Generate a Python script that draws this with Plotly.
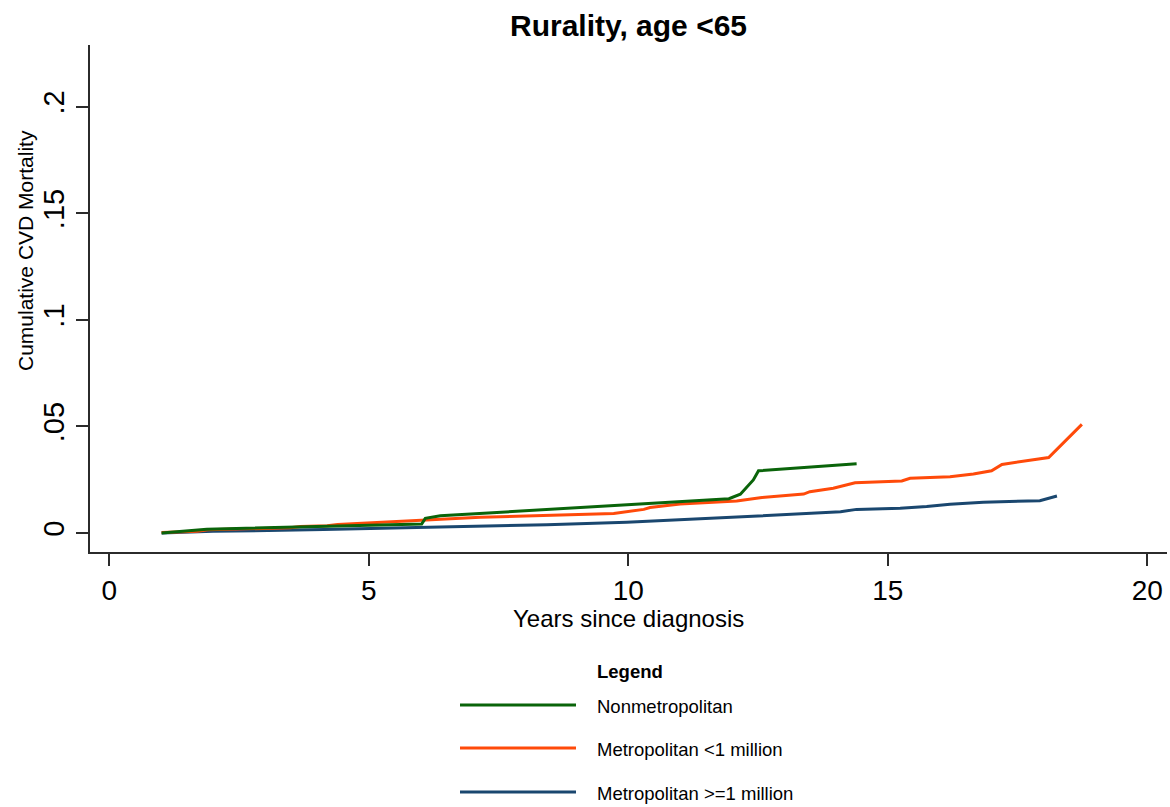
import plotly.graph_objects as go

# ---------------- data ----------------
series_names = ["Nonmetropolitan", "Metropolitan <1 million", "Metropolitan >=1 million"]
series_colors = ["#0a640a", "#ff4a0a", "#1a476f"]

nonmetro_years = [1.01, 1.88, 6.02, 6.09, 6.38, 11.94, 12.16, 12.41, 12.51, 14.40]
nonmetro_cum = [0.0, 0.0018, 0.0042, 0.0069, 0.0081, 0.0161, 0.0182, 0.0249, 0.0292, 0.0325]

metro_small_years = [1.01, 1.70, 1.90, 3.49, 3.68, 4.20, 4.40, 6.06, 7.15, 9.72, 10.30, 10.42,
                     11.00, 12.09, 12.54, 13.38, 13.50, 13.95, 14.21, 14.37, 15.27, 15.43,
                     16.20, 16.65, 17.00, 17.20, 18.10, 18.74]
metro_small_cum = [0.0003, 0.0008, 0.0015, 0.0025, 0.0031, 0.0034, 0.0040, 0.0061, 0.0074, 0.0092,
                   0.0111, 0.0120, 0.0136, 0.0150, 0.0166, 0.0183, 0.0194, 0.0210, 0.0225, 0.0236,
                   0.0244, 0.0257, 0.0264, 0.0277, 0.0292, 0.0322, 0.0354, 0.0510]

metro_large_years = [1.01, 2.00, 4.13, 5.50, 7.15, 8.43, 9.97, 12.16, 12.50, 14.09, 14.40, 15.24,
                     15.75, 16.20, 16.84, 17.93, 18.26]
metro_large_cum = [0.0, 0.0008, 0.0016, 0.0024, 0.0031, 0.0039, 0.0051, 0.0074, 0.0080, 0.0100,
                   0.0111, 0.0116, 0.0124, 0.0135, 0.0144, 0.0152, 0.0174]

x_ticks = [0, 5, 10, 15, 20]
x_tick_labels = ["0", "5", "10", "15", "20"]
y_ticks = [0, 0.05, 0.1, 0.15, 0.2]
y_tick_labels = ["0", ".05", ".1", ".15", ".2"]

title_text = "Rurality, age <65"
x_title = "Years since diagnosis"
y_title = "Cumulative CVD Mortality"
legend_title = "Legend"

# ---------------- layout constants ----------------
W, H = 1170, 807
L, R, T, B = 90, 1167, 45, 552
FONT = "Liberation Sans, Arial, sans-serif"
AX = "#2b2b2b"


def px_x(p):
    return (p - L) / (R - L)


def px_y(p):
    return (B - p) / (B - T)


fig = go.Figure()
xs = [nonmetro_years, metro_small_years, metro_large_years]
ys = [nonmetro_cum, metro_small_cum, metro_large_cum]
for i in [2, 1, 0]:
    fig.add_trace(go.Scatter(x=xs[i], y=ys[i], mode="lines", name=series_names[i],
                             line=dict(color=series_colors[i], width=3),
                             showlegend=False, hoverinfo="x+y+name"))

fig.update_layout(
    width=W, height=H,
    margin=dict(l=L, r=W - R, t=T, b=H - B),
    plot_bgcolor="white", paper_bgcolor="white",
    font=dict(family=FONT, color="black"),
    title=dict(text="<b>" + title_text + "</b>", x=0.5, xref="paper", xanchor="center",
               y=1 - 25 / H, yref="container", yanchor="middle",
               font=dict(size=30, family=FONT, color="black")),
    xaxis=dict(range=[-0.37, 20.38], tickvals=x_ticks, ticktext=x_tick_labels,
               showgrid=False, zeroline=False, showline=True, linecolor=AX, linewidth=2,
               ticks="outside", ticklen=12, tickwidth=1.5, tickcolor=AX,
               tickfont=dict(size=28, family=FONT, color="black")),
    yaxis=dict(range=[-0.0089, 0.229], tickvals=y_ticks, ticktext=y_tick_labels,
               showgrid=False, zeroline=False, showline=True, linecolor=AX, linewidth=2,
               ticks="outside", ticklen=12, tickwidth=1.5, tickcolor=AX, tickangle=-90,
               tickfont=dict(size=29, family=FONT, color="black")),
)

annotations = [
    dict(text=x_title, x=px_x(628), y=px_y(618), xref="paper", yref="paper",
         xanchor="center", yanchor="middle", showarrow=False,
         font=dict(size=24, family=FONT, color="black")),
    dict(text=y_title, x=px_x(26), y=px_y(251), xref="paper", yref="paper",
         xanchor="center", yanchor="middle", showarrow=False, textangle=-90,
         font=dict(size=21, family=FONT, color="black")),
    dict(text="<b>" + legend_title + "</b>", x=px_x(595), y=px_y(671), xref="paper", yref="paper",
         xanchor="left", yanchor="middle", showarrow=False,
         font=dict(size=18.5, family=FONT, color="black")),
]
shapes = []
row_y = [705, 748, 792]
for name, color, ry in zip(series_names, series_colors, row_y):
    shapes.append(dict(type="line", xref="paper", yref="paper",
                       x0=px_x(460), x1=px_x(576), y0=px_y(ry), y1=px_y(ry),
                       line=dict(color=color, width=3)))
    annotations.append(dict(text=name, x=px_x(595), y=px_y(ry + 1), xref="paper", yref="paper",
                            xanchor="left", yanchor="middle", showarrow=False,
                            font=dict(size=18.5, family=FONT, color="black")))

fig.update_layout(annotations=annotations, shapes=shapes)

fig.write_html("out.html", config={"displayModeBar": False},
               post_script="document.body.style.margin='0px';document.body.style.padding='0px';")
